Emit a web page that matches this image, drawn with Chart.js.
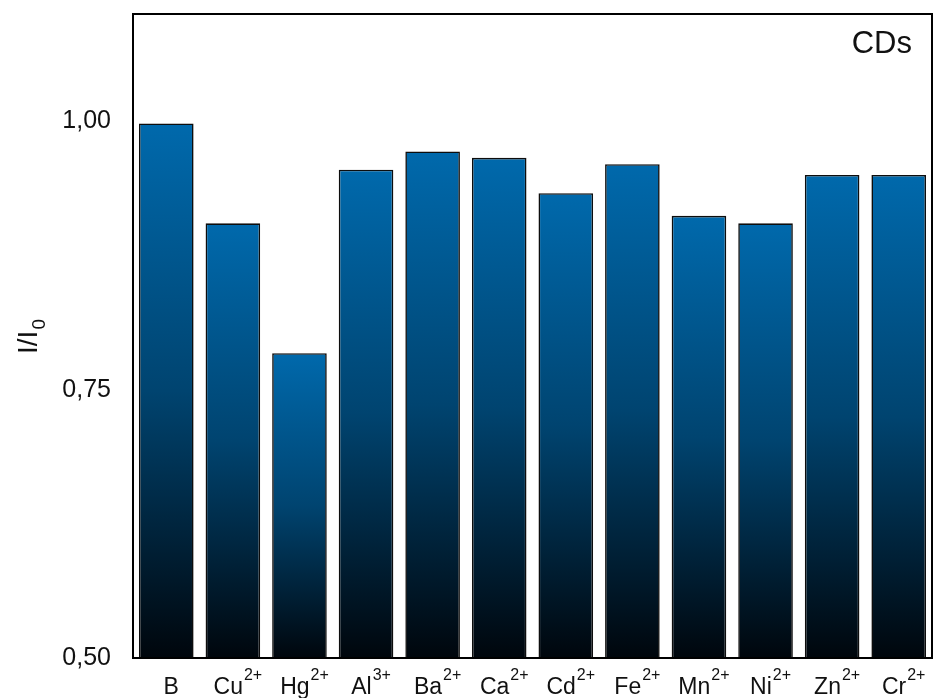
<!DOCTYPE html>
<html>
<head>
<meta charset="utf-8">
<script src="https://cdn.jsdelivr.net/npm/chart.js@4/dist/chart.umd.min.js"></script>
<style>
	html, body { margin: 0; padding: 0; background: #fff; }
	#wrap { width: 938px; height: 698px; }
</style>
</head>
<body>
<div id="wrap"><canvas id="bar-chartcanvas-1"></canvas></div>
<script>
// data
var ions    = ["B", "Cu", "Hg", "Al", "Ba", "Ca", "Cd", "Fe", "Mn", "Ni", "Zn", "Cr"];
var charges = ["", "2+", "2+", "3+", "2+", "2+", "2+", "2+", "2+", "2+", "2+", "2+"];
var ratio   = [0.998, 0.905, 0.784, 0.955, 0.972, 0.966, 0.933, 0.960, 0.912, 0.905, 0.950, 0.950];
var yTicks  = [0.50, 0.75, 1.00];

var FONT = "'Liberation Sans', Arial, sans-serif";

// frame, superscript labels, axis title and panel label
var decorations = {
	id: "decorations",
	afterDatasetsDraw: function(chart){
		var c = chart.ctx, a = chart.chartArea, x = chart.scales.x;
		c.save();
		c.strokeStyle = "#000";
		c.lineWidth = 2;
		c.strokeRect(a.left, a.top, a.right - a.left, a.bottom - a.top);

		c.fillStyle = "#111";
		c.textBaseline = "alphabetic";
		c.textAlign = "left";
		for(var i = 0; i < ions.length; i++){
			c.font = "23px " + FONT;
			var w1 = c.measureText(ions[i]).width;
			c.font = "16px " + FONT;
			var w2 = charges[i] ? c.measureText(charges[i]).width + 1 : 0;
			var cx = x.getPixelForValue(i) + 5;
			var sx = cx - (w1 + w2) / 2;
			c.font = "23px " + FONT;
			c.fillText(ions[i], sx, 694);
			if(charges[i]){
				c.font = "16px " + FONT;
				c.fillText(charges[i], sx + w1 + 1, 680);
			}
		}

		// y title I/I0
		c.translate(37, 337);
		c.rotate(-Math.PI / 2);
		c.font = "28px " + FONT;
		var t = "I/I";
		var tw = c.measureText(t).width;
		c.font = "19px " + FONT;
		var sw = c.measureText("0").width;
		var start = -(tw + sw) / 2;
		c.font = "28px " + FONT;
		c.fillText(t, start, 0);
		c.font = "19px " + FONT;
		c.fillText("0", start + tw + 1, 8);
		c.restore();

		c.save();
		c.fillStyle = "#111";
		c.font = "31px " + FONT;
		c.textAlign = "right";
		c.fillText("CDs", 912, 53);
		c.restore();
	}
};

var ctx = document.getElementById("bar-chartcanvas-1");
var chart = new Chart(ctx, {
	type: "bar",
	data: {
		labels: ions,
		datasets: [{
			label: "I/I0",
			data: ratio,
			backgroundColor: function(context){
				var ch = context.chart, area = ch.chartArea;
				if(!area || context.raw === undefined) return "#0068ab";
				var top = ch.scales.y.getPixelForValue(context.raw);
				var g = ch.ctx.createLinearGradient(0, top, 0, area.bottom);
				g.addColorStop(0, "#0069ac");
				g.addColorStop(0.5, "#004470");
				g.addColorStop(1, "#00060c");
				return g;
			},
			borderColor: "#0d0d0d",
			borderWidth: 1.6,
			borderSkipped: false,
			categoryPercentage: 1.0,
			barPercentage: 0.82
		}]
	},
	options: {
		responsive: true,
		maintainAspectRatio: false,
		animation: false,
		layout: { padding: { top: 14, right: 6, left: 0, bottom: 0 } },
		plugins: { legend: { display: false }, tooltip: { enabled: false } },
		scales: {
			x: {
				grid: { display: false, drawTicks: false },
				border: { display: false },
				ticks: { display: false },
				afterFit: function(s){ s.height = 40; s.paddingLeft = 0; s.paddingRight = 0; }
			},
			y: {
				min: 0.5,
				max: 1.1,
				grid: { display: false, drawTicks: false },
				border: { display: false },
				afterBuildTicks: function(s){
					s.ticks = yTicks.map(function(v){ return { value: v }; });
				},
				ticks: {
					padding: 22,
					color: "#111",
					font: { family: FONT, size: 25 },
					callback: function(v){ return Number(v).toFixed(2).replace(".", ","); }
				},
				afterFit: function(s){ s.width = 133; s.paddingTop = 0; s.paddingBottom = 0; }
			}
		}
	},
	plugins: [decorations]
});
</script>
</body>
</html>
